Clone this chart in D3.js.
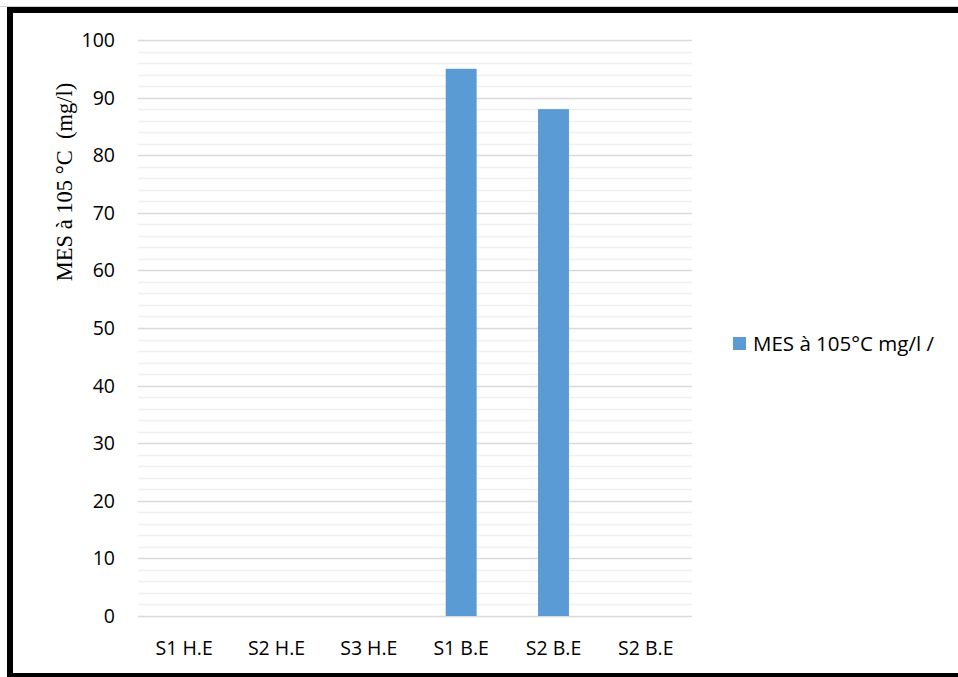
<!DOCTYPE html>
<html>
<head>
<meta charset="utf-8">
<script src="https://cdn.jsdelivr.net/npm/d3@7"></script>
<style>
  body { margin: 0; background: #fff; }
  svg { display: block; }
  .tick-label { font-family: "Open Sans", "Noto Sans", sans-serif; font-size: 19.5px; fill: #000; }
  .axis-title { font-family: "Liberation Serif", "DejaVu Serif", serif; font-size: 22.5px; fill: #000; white-space: pre; }
  .legend-text { font-family: "Open Sans", "Noto Sans", sans-serif; font-size: 20.5px; fill: #000; }
</style>
</head>
<body>
<svg id="chart"></svg>
<script>
// chart data
const categories = ['S1 H.E', 'S2 H.E', 'S3 H.E', 'S1 B.E', 'S2 B.E', 'S2 B.E'];
const values = [0, 0, 0, 95, 88, 0];
const yTicks = [0, 10, 20, 30, 40, 50, 60, 70, 80, 90, 100];
const minorTicks = d3.range(0, 101, 2);
const seriesName = 'MES à 105°C mg/l /';
const yTitle = 'MES à 105 °C  (mg/l)';

const config = {
  width: 958,
  height: 677,
  plot: { left: 138, right: 692, top: 40, bottom: 616 },
  barColor: '#5b9bd5'
};

const svg = d3.select('#chart')
    .attr('width', config.width)
    .attr('height', config.height);

// frame (thin grey line on top, thick black left/top/bottom)
svg.append('line')
    .attr('x1', 0).attr('x2', config.width)
    .attr('y1', 6.5).attr('y2', 6.5)
    .attr('stroke', '#d0d0d0').attr('stroke-width', 1);
svg.append('rect').attr('x', 7).attr('y', 7).attr('width', config.width - 7).attr('height', 6).attr('fill', '#000');
svg.append('rect').attr('x', 7).attr('y', 7).attr('width', 6).attr('height', config.height - 7).attr('fill', '#000');
svg.append('rect').attr('x', 7).attr('y', 673).attr('width', config.width - 7).attr('height', 4).attr('fill', '#000');

const x = d3.scaleBand()
    .domain(d3.range(categories.length))
    .range([config.plot.left, config.plot.right])
    .paddingInner(0.665)
    .paddingOuter(0.3325);

const y = d3.scaleLinear()
    .domain([0, 100])
    .range([config.plot.bottom, config.plot.top]);

// minor grid
svg.append('g')
  .selectAll('line')
  .data(minorTicks.filter(d => d % 10 !== 0))
  .join('line')
    .attr('x1', config.plot.left).attr('x2', config.plot.right)
    .attr('y1', d => Math.round(y(d)) + 0.5).attr('y2', d => Math.round(y(d)) + 0.5)
    .attr('stroke', '#f0f0f0').attr('stroke-width', 1.5);

// major grid
svg.append('g')
  .selectAll('line')
  .data(yTicks)
  .join('line')
    .attr('x1', config.plot.left).attr('x2', config.plot.right)
    .attr('y1', d => Math.round(y(d)) + 0.5).attr('y2', d => Math.round(y(d)) + 0.5)
    .attr('stroke', '#d9d9d9').attr('stroke-width', 1.5);

// y tick labels
svg.append('g')
  .selectAll('text')
  .data(yTicks)
  .join('text')
    .attr('class', 'tick-label')
    .attr('x', 115)
    .attr('y', d => y(d))
    .attr('dy', '0.36em')
    .attr('text-anchor', 'end')
    .text(d => d);

// bars
svg.append('g')
  .selectAll('rect')
  .data(values)
  .join('rect')
    .attr('x', (d, i) => x(i))
    .attr('y', d => y(d))
    .attr('width', x.bandwidth())
    .attr('height', d => y(0) - y(d))
    .attr('fill', config.barColor);

// x labels
svg.append('g')
  .selectAll('text')
  .data(categories)
  .join('text')
    .attr('class', 'tick-label')
    .attr('x', (d, i) => x(i) + x.bandwidth() / 2)
    .attr('y', 655)
    .attr('text-anchor', 'middle')
    .text(d => d);

// y axis title
svg.append('text')
    .attr('class', 'axis-title')
    .attr('transform', 'translate(72,182) rotate(-90)')
    .attr('text-anchor', 'middle')
    .text(yTitle);

// legend
svg.append('rect')
    .attr('x', 733).attr('y', 337)
    .attr('width', 13).attr('height', 13)
    .attr('fill', config.barColor);
svg.append('text')
    .attr('class', 'legend-text')
    .attr('x', 753).attr('y', 351)
    .text(seriesName);
</script>
</body>
</html>
